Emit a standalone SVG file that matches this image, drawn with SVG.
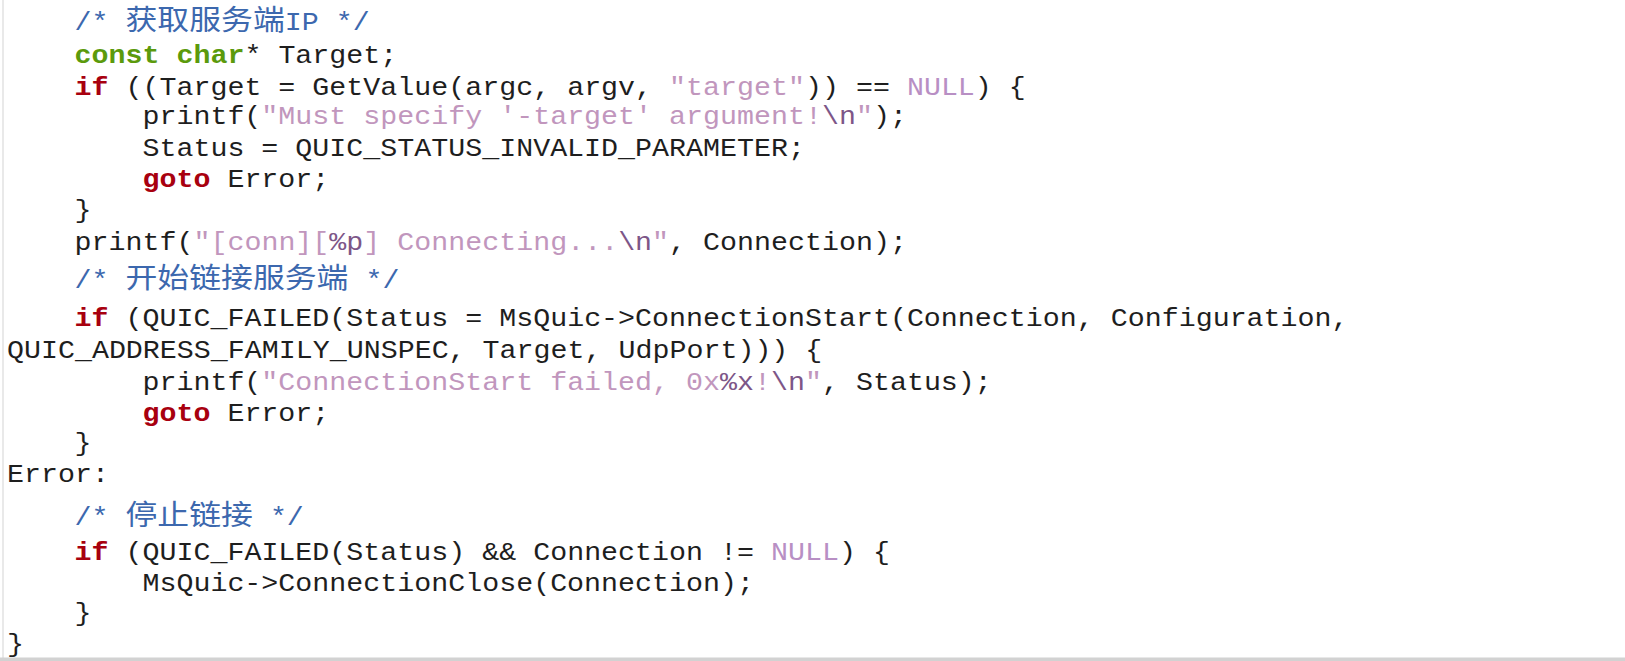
<svg xmlns="http://www.w3.org/2000/svg" width="1625" height="661" viewBox="0 0 1625 661">
<style>
.c{font-family:"Liberation Mono","DejaVu Sans Mono",monospace;font-size:25.6px;fill:#1e1e1e}
.k{fill:#a8000f;font-weight:bold}
.t{fill:#5b9a0c;font-weight:bold}
.s{fill:#c196bd}
.e{fill:#7d5688}
.n{fill:#b88fc4}
.m{fill:#3c68ae}
.z{font-family:"Noto Sans CJK SC","Noto Sans CJK TC",sans-serif;font-size:28.8px}
</style>
<rect x="0" y="0" width="1625" height="661" fill="#ffffff"/>
<line x1="3" y1="0" x2="3" y2="658" stroke="#e2e2e2" stroke-width="1.5"/>
<rect x="0" y="657.5" width="1625" height="3.5" fill="#d2d2d2"/>
<g transform="scale(1.106 1)" class="c">
<text x="67.4" y="30"><tspan class="m">/* </tspan><tspan class="m z">获取服务端</tspan><tspan class="m">IP */</tspan></text>
<text x="67.4" y="63"><tspan class="t">const char</tspan>* Target;</text>
<text x="67.4" y="95"><tspan class="k">if</tspan> ((Target = GetValue(argc, argv, <tspan class="s">"target"</tspan>)) == <tspan class="n">NULL</tspan>) {</text>
<text x="128.8" y="124">printf(<tspan class="s">"Must specify '-target' argument!</tspan><tspan class="e">\n</tspan><tspan class="s">"</tspan>);</text>
<text x="128.8" y="156">Status = QUIC_STATUS_INVALID_PARAMETER;</text>
<text x="128.8" y="187"><tspan class="k">goto</tspan> Error;</text>
<text x="67.4" y="218">}</text>
<text x="67.4" y="250">printf(<tspan class="s">"[conn][</tspan><tspan class="e">%p</tspan><tspan class="s">] Connecting...</tspan><tspan class="e">\n</tspan><tspan class="s">"</tspan>, Connection);</text>
<text x="67.4" y="288"><tspan class="m">/* </tspan><tspan class="m z">开始链接服务端</tspan><tspan class="m"> */</tspan></text>
<text x="67.4" y="326"><tspan class="k">if</tspan> (QUIC_FAILED(Status = MsQuic-&gt;ConnectionStart(Connection, Configuration,</text>
<text x="6.3" y="358">QUIC_ADDRESS_FAMILY_UNSPEC, Target, UdpPort))) {</text>
<text x="128.8" y="390">printf(<tspan class="s">"ConnectionStart failed, 0x</tspan><tspan class="e">%x</tspan><tspan class="s">!</tspan><tspan class="e">\n</tspan><tspan class="s">"</tspan>, Status);</text>
<text x="128.8" y="421"><tspan class="k">goto</tspan> Error;</text>
<text x="67.4" y="451">}</text>
<text x="6.3" y="482">Error:</text>
<text x="67.4" y="525"><tspan class="m">/* </tspan><tspan class="m z">停止链接</tspan><tspan class="m"> */</tspan></text>
<text x="67.4" y="560"><tspan class="k">if</tspan> (QUIC_FAILED(Status) &amp;&amp; Connection != <tspan class="n">NULL</tspan>) {</text>
<text x="128.8" y="591">MsQuic-&gt;ConnectionClose(Connection);</text>
<text x="67.4" y="621">}</text>
<text x="6.3" y="652">}</text>
</g>
</svg>
